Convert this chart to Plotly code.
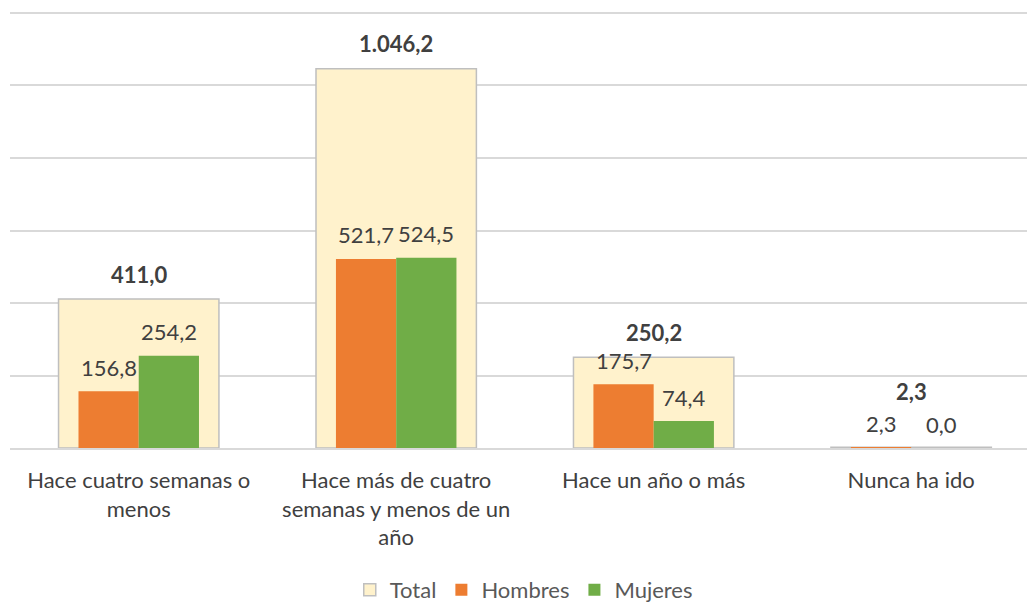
import plotly.graph_objects as go

categories = ["Hace cuatro semanas o<br>menos",
              "Hace más de cuatro<br>semanas y menos de un<br>año",
              "Hace un año o más",
              "Nunca ha ido"]
total = [411.0, 1046.2, 250.2, 2.3]
hombres = [156.8, 521.7, 175.7, 2.3]
mujeres = [254.2, 524.5, 74.4, 0.0]

def fmt(v):
    s = f"{v:,.1f}"
    return s.replace(",", "X").replace(".", ",").replace("X", ".")

FONT = "Lato"
TXT = "#404040"
SIZE = 22
sub_w = 0.234
YMAX = 1205.5
PLOT_H = 437
px_per = PLOT_H / YMAX

fig = go.Figure()
fig.add_trace(go.Bar(name="Total", x=categories, y=total, width=0.623,
                     marker=dict(color="#FFF2CC", line=dict(color="#BFBFBF", width=1.5))))
fig.add_trace(go.Bar(name="Hombres", x=categories, y=hombres, width=sub_w, offset=-sub_w,
                     marker=dict(color="#ED7D31", line=dict(width=0))))
fig.add_trace(go.Bar(name="Mujeres", x=categories, y=mujeres, width=sub_w, offset=0,
                     marker=dict(color="#70AD47", line=dict(width=0))))

annotations = []
for c, t, h, m in zip(categories, total, hombres, mujeres):
    gap = (t - max(h, m)) * px_per
    tshift = 25 if gap >= 20 else 25 + 31 - gap
    annotations.append(dict(x=c, y=t, text=f"<b>{fmt(t)}</b>", showarrow=False,
                            yanchor="middle", yshift=tshift, xref="x", yref="y",
                            font=dict(family=FONT, size=SIZE, color=TXT)))
    annotations.append(dict(x=c, y=h, text=fmt(h), showarrow=False,
                            yanchor="middle", yshift=24, xshift=-30, xref="x", yref="y",
                            font=dict(family=FONT, size=SIZE, color=TXT)))
    annotations.append(dict(x=c, y=m, text=fmt(m), showarrow=False,
                            yanchor="middle", yshift=24, xshift=30, xref="x", yref="y",
                            font=dict(family=FONT, size=SIZE, color=TXT)))

fig.update_layout(
    width=1027, height=602,
    barmode="overlay",
    paper_bgcolor="white", plot_bgcolor="white",
    margin=dict(l=10, r=0, t=11, b=154, autoexpand=False),
    font=dict(family=FONT, size=SIZE, color=TXT),
    showlegend=True,
    legend=dict(orientation="h", x=0.51, xanchor="center", xref="container",
                y=0.02, yanchor="middle", yref="container",
                font=dict(family=FONT, size=SIZE, color="#595959"),
                traceorder="normal", itemwidth=30),
    annotations=annotations,
    xaxis=dict(range=[-0.5, 3.45], showgrid=False, showline=True, linecolor="#D9D9D9",
               linewidth=1.5, ticks="", automargin=False, ticklabelstandoff=12,
               tickfont=dict(family=FONT, size=SIZE, color=TXT)),
    yaxis=dict(range=[0, YMAX], tick0=0, dtick=200, showgrid=True, gridcolor="#D9D9D9", gridwidth=1.5,
               showticklabels=False, zeroline=False, showline=False, automargin=False),
)

fig.write_html("out.html", config={"displayModeBar": False},
               post_script="document.body.style.margin='0';")
